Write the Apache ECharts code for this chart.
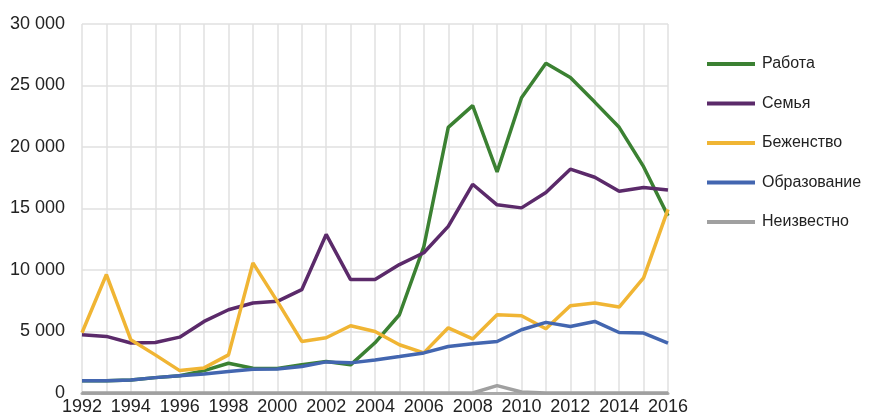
<!DOCTYPE html>
<html>
<head>
<meta charset="utf-8">
<script src="https://cdn.jsdelivr.net/npm/echarts@6/dist/echarts.min.js"></script>
<style>
  html, body { margin: 0; padding: 0; background: #fff; }
  #chart { width: 872px; height: 417px; }
</style>
</head>
<body>
<div id="chart"></div>
<script>
var years = [];
for (var y = 1992; y <= 2016; y++) years.push(String(y));

var seriesNames = ["Работа", "Семья", "Беженство", "Образование", "Неизвестно"];
var seriesColors = ["#3b8132", "#5b2a6a", "#f0b534", "#4366b0", "#a0a0a0"];

// values
var work      = [1000, 1000, 1060, 1250, 1400, 1820, 2420, 2010, 2000, 2300, 2560, 2290, 4080, 6360, 11900, 21600, 23360, 17980, 24000, 26800, 25650, 23650, 21600, 18400, 14400];
var family    = [4730, 4600, 4060, 4110, 4540, 5820, 6770, 7320, 7450, 8400, 12890, 9220, 9220, 10440, 11400, 13550, 16970, 15300, 15050, 16300, 18200, 17540, 16400, 16700, 16500];
var refugee   = [4900, 9630, 4320, 3100, 1820, 2040, 3100, 10580, 7450, 4190, 4490, 5470, 5000, 3920, 3260, 5300, 4400, 6360, 6280, 5220, 7100, 7320, 6990, 9360, 14930];
var education = [1000, 1000, 1060, 1250, 1410, 1550, 1740, 1930, 1960, 2150, 2530, 2450, 2690, 2960, 3260, 3780, 4000, 4190, 5140, 5740, 5410, 5820, 4920, 4870, 4060];
var unknown   = [0, 0, 0, 0, 0, 0, 0, 0, 0, 0, 0, 0, 0, 0, 0, 0, 0, 600, 80, 0, 0, 0, 0, 0, 0];

var allData = [work, family, refugee, education, unknown];

function fmt(v) {
	return String(v).replace(/\B(?=(\d{3})+(?!\d))/g, " ");
}

var chart = echarts.init(document.getElementById("chart"), null, {renderer: "canvas"});

var series = [];
for (var i = 0; i < seriesNames.length; i++) {
	series.push({
		name: seriesNames[i],
		type: "line",
		data: allData[i],
		symbol: "none",
		animation: false,
		lineStyle: { width: 3.5, color: seriesColors[i] },
		itemStyle: { color: seriesColors[i] }
	});
}

chart.setOption({
	backgroundColor: "#fff",
	textStyle: { fontFamily: "Liberation Sans, Arial, sans-serif" },
	grid: { left: 82, right: 204, top: 24, bottom: 24 },
	legend: {
		orient: "vertical",
		left: 702,
		top: 51,
		itemWidth: 48,
		itemHeight: 4,
		itemGap: 23.5,
		icon: "rect",
		textStyle: { fontSize: 16, color: "#222", padding: [0, 0, 0, 2] },
		data: seriesNames
	},
	xAxis: {
		type: "category",
		data: years,
		boundaryGap: false,
		axisLine: { show: true, lineStyle: { color: "#aaa", width: 3 } },
		axisTick: { show: false },
		axisLabel: { interval: 1, fontSize: 18, color: "#222", margin: 5 },
		splitLine: { show: true, interval: 0, lineStyle: { color: "#e0e0e0", width: 1.5 } }
	},
	yAxis: {
		type: "value",
		min: 0,
		max: 30000,
		interval: 5000,
		axisLine: { show: false },
		axisTick: { show: false },
		axisLabel: { fontSize: 18, color: "#222", margin: 17, formatter: fmt },
		splitLine: { lineStyle: { color: "#e0e0e0", width: 1.5 } }
	},
	series: series
});
</script>
</body>
</html>
